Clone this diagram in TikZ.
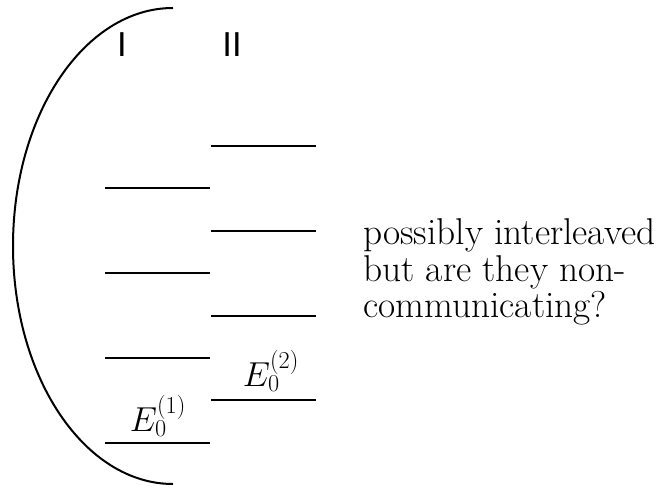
\RequirePackage{fix-cm}
\documentclass[tikz,border=0pt]{standalone}
\usepackage{fontspec}
\newfontfamily\labelfont{Liberation Sans}
\usetikzlibrary{positioning}

\begin{document}
\begin{tikzpicture}[
    x=0.75pt, y=0.75pt,
    level/.style={line width=2.2pt},
    bracket/.style={line width=1.5pt},
    collabel/.style={font=\labelfont\fontsize{26}{30}\selectfont, inner sep=0pt},
    energy/.style={font=\fontsize{26}{30}\selectfont, inner sep=0pt},
    remark/.style={font=\fontsize{28}{27.6}\selectfont, align=left, inner sep=0pt},
  ]
  \useasboundingbox (0,0) rectangle (672,486);

  % Column labels
  \node[collabel] (colI)  at (122,441) {I};
  \node[collabel] (colII) at (232,441) {II};

  % Enclosing bracket
  \draw[bracket] (173,478) arc[start angle=90, end angle=270,
    x radius=120pt, y radius=178.5pt];

  % Levels, column I
  \draw[level] (105,298) -- (210,298);
  \draw[level] (105,213) -- (210,213);
  \draw[level] (105,128) -- (210,128);
  \draw[level] (105,43)  -- (210,43);

  % Levels, column II
  \draw[level] (211,340) -- (316,340);
  \draw[level] (211,255) -- (316,255);
  \draw[level] (211,170) -- (316,170);
  \draw[level] (211,86)  -- (316,86);

  % Ground states
  \node[energy] (groundI)  at (158,70)  {$E_0^{(1)}$};
  \node[energy] (groundII) at (271,115) {$E_0^{(2)}$};

  % Remark
  \node[remark, anchor=base west] (note) at (363,168)
    {possibly interleaved\\but are they non-\\communicating?};

\end{tikzpicture}
\end{document}
